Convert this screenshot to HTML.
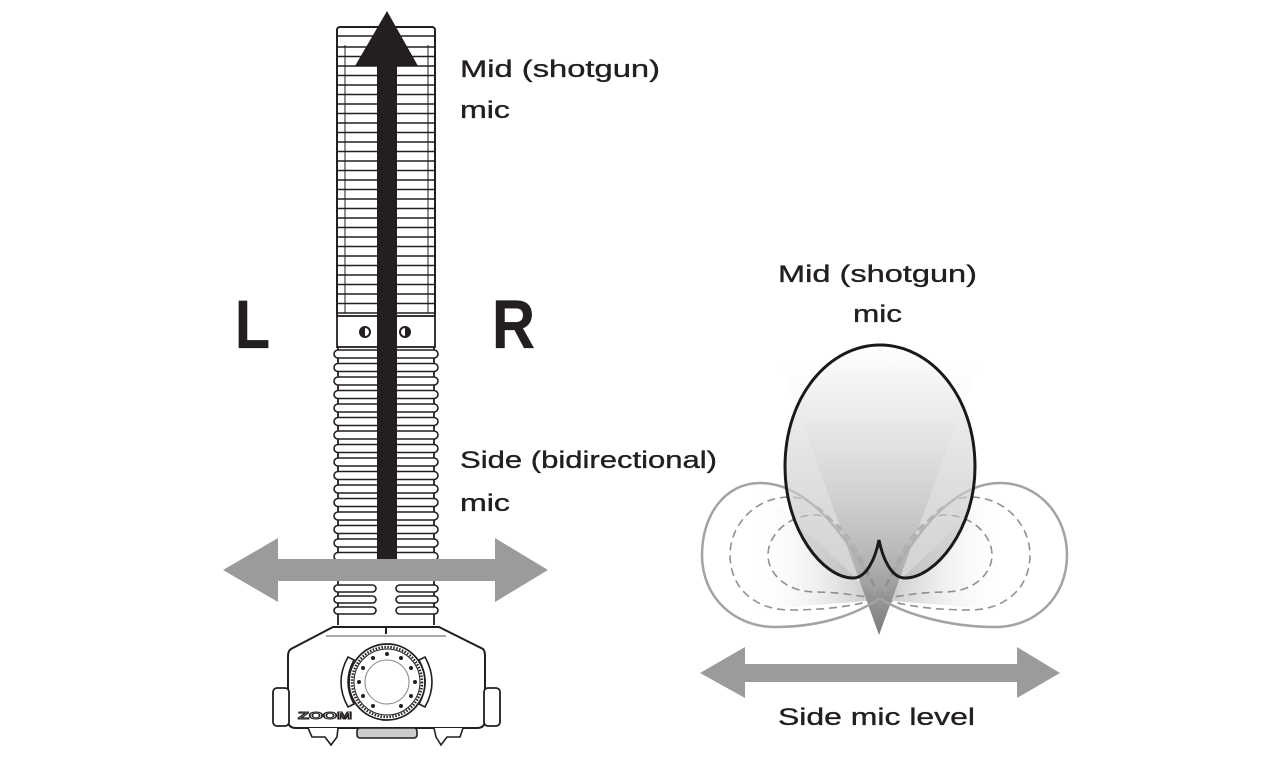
<!DOCTYPE html>
<html><head><meta charset="utf-8"><style>
html,body{margin:0;padding:0;background:#fff;}
svg{display:block;}
text{font-family:"Liberation Sans",Arial,sans-serif;fill:#231f20;stroke:#231f20;stroke-width:0.35;}
</style></head><body>
<svg width="1280" height="773" viewBox="0 0 1280 773" xmlns="http://www.w3.org/2000/svg">
<defs>
<linearGradient id="cone" x1="0" y1="360" x2="0" y2="635" gradientUnits="userSpaceOnUse">
<stop offset="0" stop-color="#ffffff" stop-opacity="0.2"/>
<stop offset="0.5" stop-color="#d0d0d0" stop-opacity="0.8"/>
<stop offset="1" stop-color="#7a7a7a"/>
</linearGradient>
<linearGradient id="egg" x1="0" y1="345" x2="0" y2="580" gradientUnits="userSpaceOnUse">
<stop offset="0" stop-color="#ffffff" stop-opacity="0.9"/>
<stop offset="1" stop-color="#b0b0b0" stop-opacity="0.55"/>
</linearGradient>
<linearGradient id="wl" x1="750" y1="0" x2="880" y2="0" gradientUnits="userSpaceOnUse">
<stop offset="0" stop-color="#ffffff" stop-opacity="0"/>
<stop offset="1" stop-color="#999" stop-opacity="0.6"/>
</linearGradient>
<linearGradient id="wr" x1="1010" y1="0" x2="880" y2="0" gradientUnits="userSpaceOnUse">
<stop offset="0" stop-color="#ffffff" stop-opacity="0"/>
<stop offset="1" stop-color="#999" stop-opacity="0.6"/>
</linearGradient>
</defs>

<g stroke="#231f20" fill="none">
  <rect x="337" y="27" width="98" height="290" rx="3" fill="#fff" stroke-width="2"/>
  <line x1="337" y1="36" x2="435" y2="36" stroke-width="1.5"/>
  <line x1="345" y1="45" x2="345" y2="313" stroke-width="1"/>
  <line x1="428" y1="45" x2="428" y2="313" stroke-width="1"/>
  <g stroke-width="1.4">
    <line x1="337" y1="47" x2="435" y2="47"/><line x1="337" y1="56.5" x2="435" y2="56.5"/>
    <line x1="337" y1="66" x2="435" y2="66"/><line x1="337" y1="75.5" x2="435" y2="75.5"/>
    <line x1="337" y1="85" x2="435" y2="85"/><line x1="337" y1="94.5" x2="435" y2="94.5"/>
    <line x1="337" y1="104" x2="435" y2="104"/><line x1="337" y1="113.5" x2="435" y2="113.5"/>
    <line x1="337" y1="123" x2="435" y2="123"/><line x1="337" y1="132.5" x2="435" y2="132.5"/>
    <line x1="337" y1="142" x2="435" y2="142"/><line x1="337" y1="151.5" x2="435" y2="151.5"/>
    <line x1="337" y1="161" x2="435" y2="161"/><line x1="337" y1="170.5" x2="435" y2="170.5"/>
    <line x1="337" y1="180" x2="435" y2="180"/><line x1="337" y1="189.5" x2="435" y2="189.5"/>
    <line x1="337" y1="199" x2="435" y2="199"/><line x1="337" y1="208.5" x2="435" y2="208.5"/>
    <line x1="337" y1="218" x2="435" y2="218"/><line x1="337" y1="227.5" x2="435" y2="227.5"/>
    <line x1="337" y1="237" x2="435" y2="237"/><line x1="337" y1="246.5" x2="435" y2="246.5"/>
    <line x1="337" y1="256" x2="435" y2="256"/><line x1="337" y1="265.5" x2="435" y2="265.5"/>
    <line x1="337" y1="275" x2="435" y2="275"/><line x1="337" y1="284.5" x2="435" y2="284.5"/>
    <line x1="337" y1="294" x2="435" y2="294"/><line x1="337" y1="303.5" x2="435" y2="303.5"/>
    <line x1="337" y1="313" x2="435" y2="313"/>
  </g>
  <rect x="337" y="316" width="98" height="31" fill="#fff" stroke-width="1.8"/>
  <circle cx="365" cy="332" r="5" fill="#fff" stroke-width="2"/>
  <path d="M365 327 A5 5 0 0 0 365 337 Z" fill="#231f20" stroke="none"/>
  <circle cx="405" cy="332" r="5" fill="#fff" stroke-width="2"/>
  <path d="M405 327 A5 5 0 0 1 405 337 Z" fill="#231f20" stroke="none"/>
  <line x1="338" y1="347" x2="338" y2="625" stroke-width="1.8"/>
  <line x1="434" y1="347" x2="434" y2="625" stroke-width="1.8"/>
  <g fill="#fff" stroke-width="1.6">
    <rect x="334" y="350" width="104" height="8" rx="4"/>
    <rect x="334" y="363.5" width="104" height="8" rx="4"/>
    <rect x="334" y="377" width="104" height="8" rx="4"/>
    <rect x="334" y="390.5" width="104" height="8" rx="4"/>
    <rect x="334" y="404" width="104" height="8" rx="4"/>
    <rect x="334" y="417.5" width="104" height="8" rx="4"/>
    <rect x="334" y="431" width="104" height="8" rx="4"/>
    <rect x="334" y="444.5" width="104" height="8" rx="4"/>
    <rect x="334" y="458" width="104" height="8" rx="4"/>
    <rect x="334" y="471.5" width="104" height="8" rx="4"/>
    <rect x="334" y="485" width="104" height="8" rx="4"/>
    <rect x="334" y="498.5" width="104" height="8" rx="4"/>
    <rect x="334" y="512" width="104" height="8" rx="4"/>
    <rect x="334" y="525.5" width="104" height="8" rx="4"/>
    <rect x="334" y="539" width="104" height="8" rx="4"/>
    <rect x="334" y="552.5" width="104" height="8" rx="4"/>
    <rect x="334" y="585" width="42" height="7" rx="3.5"/>
    <rect x="396" y="585" width="42" height="7" rx="3.5"/>
    <rect x="334" y="596" width="42" height="7" rx="3.5"/>
    <rect x="396" y="596" width="42" height="7" rx="3.5"/>
    <rect x="334" y="607" width="42" height="7" rx="3.5"/>
    <rect x="396" y="607" width="42" height="7" rx="3.5"/>
  </g>
  <path d="M333 627 L439 627 L483 649 Q485 651 485 656 L485 720 Q485 728 477 728 L296 728 Q288 728 288 720 L288 656 Q288 651 291 649 Z" fill="#fff" stroke-width="2"/>
  <line x1="326" y1="636" x2="446" y2="636" stroke-width="1" stroke="#555"/>
  <line x1="386" y1="628" x2="386" y2="634" stroke-width="2"/>
  <rect x="273" y="688" width="16" height="38" rx="4" fill="#fff" stroke-width="1.8"/>
  <rect x="484" y="688" width="16" height="38" rx="4" fill="#fff" stroke-width="1.8"/>
  <path d="M308 728 L312 737 L325 737 L331 745 L337 737 L338 728" fill="#fff" stroke-width="1.6"/>
  <path d="M434 728 L436 737 L441 745 L447 737 L460 737 L463 728" fill="#fff" stroke-width="1.6"/>
  <rect x="357" y="728" width="60" height="10" rx="3" fill="#ccc" stroke-width="1.6"/>
  <path d="M348 657 Q334 682 348 707 L354 704 Q342 682 354 660 Z" fill="#fff" stroke-width="1.6"/>
  <path d="M425 657 Q439 682 425 707 L419 704 Q431 682 419 660 Z" fill="#fff" stroke-width="1.6"/>
  <circle cx="387" cy="682" r="38" fill="#fff" stroke-width="1.8"/>
  <circle cx="387" cy="682" r="35" stroke-width="2.5" stroke-dasharray="1.5 1.5"/>
  <circle cx="387" cy="682" r="33" stroke-width="1"/>
  <circle cx="387" cy="682" r="22" stroke-width="1" stroke="#888"/>
  <g fill="#231f20" stroke="none">
    <circle cx="387" cy="654" r="2"/><circle cx="401" cy="658" r="2"/><circle cx="411" cy="668" r="2"/>
    <circle cx="415" cy="682" r="2"/><circle cx="411" cy="696" r="2"/><circle cx="401" cy="706" r="2"/>
    <circle cx="373" cy="706" r="2"/><circle cx="363" cy="696" r="2"/>
    <circle cx="359" cy="682" r="2"/><circle cx="363" cy="668" r="2"/><circle cx="373" cy="658" r="2"/>
  </g>
</g>
<text x="298" y="719" font-size="10" font-weight="bold" textLength="54" lengthAdjust="spacingAndGlyphs" style="fill:#fff;stroke:#231f20;stroke-width:1">ZOOM</text>

<rect x="377" y="60" width="20" height="499" fill="#231f20"/>
<polygon points="387,11 418,66 355,66" fill="#231f20"/>

<polygon points="223,570 278,538 278,559 495,559 495,538 548,570 495,602 495,581 278,581 278,602" fill="#9b9b9b"/>

<text x="235" y="348" font-size="69" font-weight="bold" textLength="35" lengthAdjust="spacingAndGlyphs">L</text>
<text x="492" y="348" font-size="69" font-weight="bold" textLength="43" lengthAdjust="spacingAndGlyphs">R</text>
<text x="460" y="77" font-size="24" textLength="200" lengthAdjust="spacingAndGlyphs">Mid (shotgun)</text>
<text x="460" y="118" font-size="24" textLength="50" lengthAdjust="spacingAndGlyphs">mic</text>
<text x="460" y="468" font-size="24" textLength="257" lengthAdjust="spacingAndGlyphs">Side (bidirectional)</text>
<text x="460" y="511" font-size="24" textLength="50" lengthAdjust="spacingAndGlyphs">mic</text>

<polygon points="750,478 879,600 750,610" fill="url(#wl)"/>
<polygon points="1008,478 879,600 1008,610" fill="url(#wr)"/>
<polygon points="780,360 980,360 879,635" fill="url(#cone)"/>

<g fill="none" stroke="#a3a3a3" stroke-width="2.5">
  <path d="M880 598 C850 540 810 483 760 483 C725 483 702 515 702 555 C702 598 735 627 775 627 C825 627 860 612 880 598 Z"/>
  <path d="M880 598 C910 540 950 483 1000 483 C1038 483 1067 515 1067 555 C1067 598 1035 627 995 627 C945 627 900 612 880 598 Z"/>
</g>
<g fill="none" stroke="#909090" stroke-width="1.6" stroke-dasharray="8 5">
  <path d="M880 598 C860 560 830 497 790 497 C755 497 730 525 730 555 C730 588 755 610 790 610 C830 610 860 605 880 598"/>
  <path d="M880 598 C865 565 845 515 815 515 C788 515 768 535 768 555 C768 575 788 592 815 592 C845 592 865 598 880 598"/>
  <path d="M880 598 C900 560 930 497 970 497 C1005 497 1030 525 1030 555 C1030 588 1005 610 970 610 C930 610 900 605 880 598"/>
  <path d="M880 598 C895 565 915 515 945 515 C972 515 992 535 992 555 C992 575 972 592 945 592 C915 592 895 598 880 598"/>
</g>

<path d="M880 345 C930 345 975 395 975 467 C975 530 935 578 905 578 C892 578 883 560 879 540 C875 560 866 578 853 578 C823 578 785 530 785 467 C785 395 830 345 880 345 Z" fill="url(#egg)" stroke="#1a1a1a" stroke-width="3"/>

<polygon points="700,673 745,647 745,664 1017,664 1017,647 1060,673 1017,698 1017,682 745,682 745,698" fill="#9b9b9b"/>

<text x="778" y="282" font-size="24" textLength="199" lengthAdjust="spacingAndGlyphs">Mid (shotgun)</text>
<text x="853" y="322" font-size="24" textLength="49" lengthAdjust="spacingAndGlyphs">mic</text>
<text x="778" y="725" font-size="24" textLength="197" lengthAdjust="spacingAndGlyphs">Side mic level</text>
</svg>
</body></html>
